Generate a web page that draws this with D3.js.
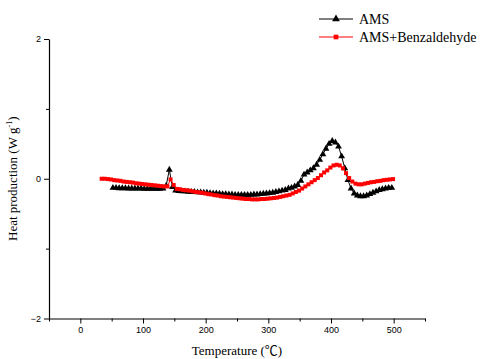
<!DOCTYPE html>
<html>
<head>
<meta charset="utf-8">
<script src="https://cdn.jsdelivr.net/npm/d3@7"></script>
<style>
  body { margin: 0; background: #fff; }
  .tick text { font-family: Arial, "Liberation Sans", sans-serif; font-size: 9px; }
</style>
</head>
<body>
<svg id="chart" width="483" height="359"></svg>
<script>
// AMS (black triangles)
var tempAMS = [52,57,62,67,72,77,82,87,92,97,102,107,112,117,122,127,132,137,142,147,
  152,157,162,167,172,177,182,187,192,197,202,207,212,217,222,227,232,237,242,247,
  252,257,262,267,272,277,282,287,292,297,302,307,312,317,322,327,332,337,342,347,
  352,357,362,367,372,377,382,387,392,397,402,407,412,417,422,427,432,437,442,447,
  452,457,462,467,472,477,482,487,492,497];
var heatAMS = [-0.13,-0.13,-0.135,-0.135,-0.135,-0.14,-0.14,-0.14,-0.14,-0.14,-0.145,-0.145,-0.145,-0.145,-0.145,-0.145,-0.14,-0.10,0.13,-0.12,
  -0.17,-0.175,-0.18,-0.18,-0.185,-0.19,-0.19,-0.195,-0.195,-0.2,-0.2,-0.205,-0.21,-0.21,-0.215,-0.22,-0.22,-0.225,-0.225,-0.23,
  -0.23,-0.23,-0.23,-0.23,-0.23,-0.225,-0.225,-0.22,-0.215,-0.21,-0.205,-0.2,-0.19,-0.18,-0.17,-0.16,-0.14,-0.13,-0.11,-0.09,
  -0.03,0.06,0.09,0.12,0.15,0.2,0.27,0.35,0.43,0.5,0.54,0.52,0.46,0.32,0.15,-0.02,-0.14,-0.21,-0.24,-0.25,
  -0.25,-0.24,-0.22,-0.2,-0.18,-0.16,-0.15,-0.14,-0.13,-0.13];

// AMS+Benzaldehyde (red squares)
var tempBenz = [34,39,44,49,54,59,64,69,74,79,84,89,94,99,104,109,114,119,124,129,
  134,139,144,149,154,159,164,169,174,179,184,189,194,199,204,209,214,219,224,229,
  234,239,244,249,254,259,264,269,274,279,284,289,294,299,304,309,314,319,324,329,
  334,339,344,349,354,359,364,369,374,379,384,389,394,399,404,409,414,419,424,429,
  434,439,444,449,454,459,464,469,474,479,484,489,494,499];
var heatBenz = [0.0,0.0,-0.005,-0.01,-0.02,-0.025,-0.03,-0.04,-0.045,-0.05,-0.055,-0.065,-0.07,-0.075,-0.08,-0.085,-0.09,-0.095,-0.10,-0.105,
  -0.11,-0.11,-0.01,-0.09,-0.145,-0.15,-0.16,-0.165,-0.17,-0.18,-0.19,-0.195,-0.2,-0.21,-0.22,-0.225,-0.235,-0.24,-0.25,-0.255,
  -0.26,-0.265,-0.27,-0.275,-0.28,-0.285,-0.29,-0.29,-0.295,-0.295,-0.295,-0.29,-0.29,-0.285,-0.28,-0.275,-0.27,-0.26,-0.25,-0.24,
  -0.23,-0.21,-0.19,-0.17,-0.14,-0.11,-0.08,-0.05,-0.02,0.01,0.05,0.09,0.12,0.16,0.19,0.2,0.19,0.15,0.08,0.01,
  -0.04,-0.07,-0.08,-0.08,-0.07,-0.06,-0.05,-0.045,-0.035,-0.03,-0.02,-0.015,-0.01,-0.005];

var xTicks = [0, 100, 200, 300, 400, 500];
var xMinorTicks = [-50, 50, 150, 250, 350, 450, 550];
var yTicks = [-2, 0, 2];
var yMinorTicks = [-1, 1];

var series = [
  { name: "AMS", temp: tempAMS, heat: heatAMS, color: "#000000", symbol: d3.symbolTriangle, size: 20 },
  { name: "AMS+Benzaldehyde", temp: tempBenz, heat: heatBenz, color: "#ff0000", symbol: d3.symbolSquare, size: 16 }
];

var svg = d3.select("#chart");
var plotLeft = 49, plotRight = 425, plotTop = 39, plotBottom = 318.5;

var x = d3.scaleLinear().domain([-50, 550]).range([plotLeft, plotRight]);
var y = d3.scaleLinear().domain([-2, 2]).range([plotBottom, plotTop]);

// axes
svg.append("g").attr("transform", "translate(0," + plotBottom + ")")
  .call(d3.axisBottom(x).tickValues(xTicks).tickFormat(d3.format("d")).tickSize(5).tickPadding(3).tickSizeOuter(0));
svg.append("g").attr("transform", "translate(0," + plotBottom + ")")
  .call(d3.axisBottom(x).tickValues(xMinorTicks).tickSize(3).tickFormat("").tickSizeOuter(0))
  .select(".domain").remove();

svg.append("g").attr("transform", "translate(" + plotLeft + ",0)")
  .call(d3.axisLeft(y).tickValues(yTicks).tickFormat(d3.format("d")).tickSize(5).tickPadding(3).tickSizeOuter(0));
svg.append("g").attr("transform", "translate(" + plotLeft + ",0)")
  .call(d3.axisLeft(y).tickValues(yMinorTicks).tickSize(3).tickFormat("").tickSizeOuter(0))
  .select(".domain").remove();

svg.selectAll(".domain").attr("stroke-width", 1.2);

// series
var line = d3.line().x(d => x(d[0])).y(d => y(d[1]));

series.forEach(function (s) {
  var pts = s.temp.map((t, i) => [t, s.heat[i]]);
  svg.append("path").datum(pts)
    .attr("d", line)
    .attr("fill", "none")
    .attr("stroke", s.color)
    .attr("stroke-width", 1);
  svg.append("g").selectAll("path").data(pts).enter().append("path")
    .attr("d", d3.symbol().type(s.symbol).size(s.size))
    .attr("transform", d => "translate(" + x(d[0]) + "," + y(d[1]) + ")")
    .attr("fill", s.color);
});

// axis titles
var serif = "'Times New Roman', 'Liberation Serif', 'Noto Sans CJK SC', serif";
svg.append("text")
  .attr("x", (plotLeft + plotRight) / 2).attr("y", 355)
  .attr("text-anchor", "middle")
  .attr("font-family", serif)
  .attr("font-size", 13)
  .text("Temperature (\u2103)");

var yt = svg.append("text")
  .attr("transform", "translate(17," + ((plotTop + plotBottom) / 2) + ") rotate(-90)")
  .attr("text-anchor", "middle")
  .attr("font-family", serif)
  .attr("font-size", 13);
yt.append("tspan").text("Heat production (W g");
yt.append("tspan").attr("dy", -5).attr("font-size", 8).text("-1");
yt.append("tspan").attr("dy", 5).text(")");

// legend
var legend = svg.append("g").attr("transform", "translate(319,19)");
series.forEach(function (s, i) {
  var g = legend.append("g").attr("transform", "translate(0," + (i * 18) + ")");
  g.append("line").attr("x1", 0).attr("x2", 34).attr("y1", 0).attr("y2", 0)
    .attr("stroke", s.color).attr("stroke-width", 1);
  g.append("path").attr("d", d3.symbol().type(s.symbol).size(s.size + 6)())
    .attr("transform", "translate(17,0)").attr("fill", s.color);
  g.append("text").attr("x", 40).attr("y", 5)
    .attr("font-family", serif)
    .attr("font-size", 14)
    .text(s.name);
});
</script>
</body>
</html>
